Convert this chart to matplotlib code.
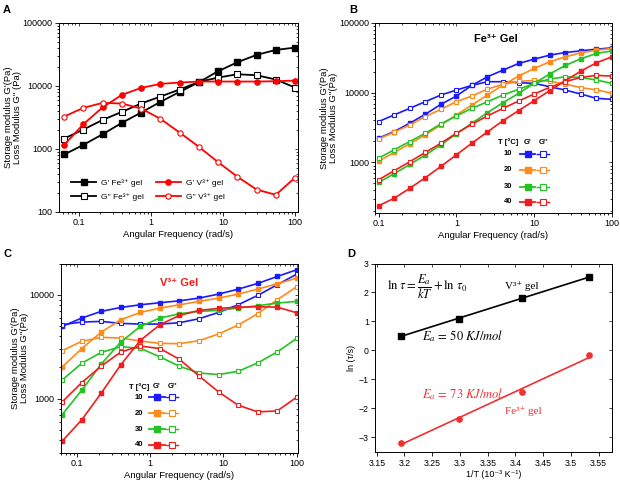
import matplotlib
matplotlib.use('Agg')
import matplotlib.pyplot as plt
import numpy as np

plt.rcParams['font.family'] = ['Liberation Sans', 'DejaVu Sans']
plt.rcParams['font.size'] = 6

# ---- panel A data ----
freq_a = [0.0628, 0.116, 0.215, 0.397, 0.734, 1.36, 2.51, 4.64, 8.58, 15.9, 29.3, 54.2, 100]
gp_fe = [813, 1157, 1710, 2588, 3774, 5575, 8030, 11430, 17090, 23750, 31050, 37260, 40570]
gpp_fe = [1459, 2027, 2884, 3868, 5245, 6776, 8750, 11570, 13550, 15310, 14770, 12620, 9420]
gp_v = [1157, 2465, 4580, 7200, 9300, 10770, 11300, 11720, 11720, 11720, 11720, 11860, 12160]
gpp_v = [3260, 4480, 5370, 5245, 4370, 2995, 1815, 1076, 614, 360, 226, 186, 347]

# ---- panel B data (Fe3+ gel) ----
freq_b = [0.1, 0.158, 0.251, 0.398, 0.631, 1.0, 1.58, 2.51, 3.98, 6.31, 10, 15.8, 25.1, 39.8, 63.1, 100]
temps = ['10', '20', '30', '40']
fe_gp = {
    '10': [2228, 2773, 3650, 4900, 6810, 8960, 12730, 16930, 21090, 26240, 30270, 34520, 37670, 39810, 42060, 43950],
    '20': [1045, 1390, 1850, 2485, 3451, 4800, 6670, 9260, 12880, 17300, 22280, 27730, 32660, 37260, 40740, 42950],
    '30': [518, 689, 936, 1273, 1786, 2570, 3650, 5180, 7200, 9780, 13600, 18490, 24550, 30620, 36480, 39810],
    '40': [240, 306, 426, 604, 877, 1288, 1888, 2742, 3981, 5530, 7690, 10690, 14830, 20400, 26850, 32660],
}
fe_gpp = {
    '10': [3855, 4800, 5970, 7430, 9260, 10900, 12730, 14370, 14370, 13900, 13600, 12200, 10900, 9570, 8300, 8030],
    '20': [2180, 2710, 3450, 4540, 5780, 7430, 8960, 11280, 13200, 14500, 15000, 14600, 13300, 11800, 11000, 9800],
    '30': [1153, 1517, 1995, 2625, 3565, 4645, 5970, 7430, 9260, 11170, 13600, 15670, 16930, 16560, 15170, 13600],
    '40': [565, 760, 1023, 1390, 1888, 2625, 3530, 4645, 5970, 7600, 9570, 11920, 14370, 16560, 17700, 17300],
}

# ---- panel C data (V3+ gel) ----
v_gp = {
    '10': [4960, 5970, 6920, 7550, 8010, 8380, 8750, 9290, 10150, 11330, 12850, 15000, 17400],
    '20': [2015, 3030, 4375, 5750, 6760, 7450, 8010, 8630, 9290, 10150, 11330, 12760, 14460],
    '30': [702, 1202, 2155, 3510, 4960, 5970, 6560, 6920, 7070, 7450, 7840, 8320, 8630],
    '40': [389, 624, 1132, 2123, 3640, 5150, 6330, 7070, 7390, 7600, 7670, 7600, 6710],
}
v_gpp = {
    '10': [5150, 5460, 5540, 5300, 5220, 5220, 5380, 5880, 6760, 8010, 9850, 12480, 15800],
    '20': [2895, 3560, 3890, 3830, 3585, 3405, 3380, 3610, 4190, 5110, 6560, 8950, 11940],
    '30': [1510, 2188, 2790, 3162, 3048, 2517, 2047, 1766, 1702, 1832, 2203, 2810, 3800],
    '40': [929, 1426, 2060, 2810, 3210, 3030, 2390, 1652, 1159, 863, 745, 760, 1030],
}
colors = {'10': '#1a1aff', '20': '#ff8a1a', '30': '#22c322', '40': '#f21c1c'}

# ---- panel D data ----
inv_t = [3.193, 3.299, 3.411, 3.532]
ln_tau_v = [0.50, 1.085, 1.807, 2.53]
ln_tau_fe = [-3.18, -2.367, -1.438, -0.165]


def box_ticks(ax):
    # inward ticks on the top and right edges
    top = ax.secondary_xaxis('top')
    top.tick_params(which='both', direction='in', labeltop=False, width=0.5)
    top.tick_params(which='major', length=2.5)
    top.tick_params(which='minor', length=1.3)
    right = ax.secondary_yaxis('right')
    right.tick_params(which='both', direction='in', labelright=False, width=0.5)
    right.tick_params(which='major', length=2.5)
    right.tick_params(which='minor', length=1.3)
    for a in (top, right):
        for s in a.spines.values():
            s.set_linewidth(0.7)


def style_log(ax, xlim, ylim, yticks):
    ax.set_xscale('log')
    ax.set_yscale('log')
    ax.set_xlim(*xlim)
    ax.set_ylim(*ylim)
    ax.set_xticks([0.1, 1, 10, 100])
    ax.set_xticklabels(['0.1', '1', '10', '100'])
    ax.set_yticks(yticks)
    ax.set_yticklabels([str(t) for t in yticks])
    ax.tick_params(which='both', direction='out', labelsize=6.5, width=0.6, pad=1.5)
    ax.tick_params(which='major', length=3)
    ax.tick_params(which='minor', length=1.5)
    for s in ax.spines.values():
        s.set_linewidth(0.7)
    ax.set_xlabel('Angular Frequency (rad/s)', fontsize=6.8, labelpad=2)
    box_ticks(ax)


def temp_key(ax, x_lab, x_gp, x_gpp, y_head, rows):
    tr = ax.transAxes
    ax.text(x_lab, y_head, 'T [°C]', transform=tr, fontsize=5.5, fontweight='bold',
            ha='center', va='center')
    ax.text(x_gp, y_head, "G'", transform=tr, fontsize=5.5, fontweight='bold', ha='center', va='center')
    ax.text(x_gpp, y_head, "G''", transform=tr, fontsize=5.5, fontweight='bold', ha='center', va='center')
    for t, y in zip(temps, rows):
        c = colors[t]
        ax.text(x_lab, y, t, transform=tr, fontsize=5.5, fontweight='bold', ha='center', va='center')
        ax.plot([x_gp - 0.032, x_gp + 0.032], [y, y], color=c, lw=1.3, transform=tr)
        ax.plot([x_gp], [y], 's', color=c, ms=3.8, transform=tr)
        ax.plot([x_gpp - 0.03, x_gpp + 0.03], [y, y], color=c, lw=1.0, ls=(0, (2.5, 1.2)), transform=tr)
        ax.plot([x_gpp], [y], 's', color=c, mfc='white', ms=3.8, mew=0.8, transform=tr)


fig = plt.figure(figsize=(6.2, 4.88), dpi=100)
ylab = "Storage modulus G'(Pa)\nLoss Modulus G''(Pa)"

# A
axA = fig.add_axes([0.095, 0.566, 0.386, 0.387])
axA.plot(freq_a, gp_fe, 's-', color='black', ms=3.8, lw=1.3, label="G' Fe³⁺ gel")
axA.plot(freq_a, gpp_fe, 's-', color='black', mfc='white', ms=3.8, mew=0.8, lw=1.3, label="G'' Fe³⁺ gel")
axA.plot(freq_a, gp_v, 'o-', color='red', ms=3.8, lw=1.3, label="G' V³⁺ gel")
axA.plot(freq_a, gpp_v, 'o-', color='red', mfc='white', ms=3.8, mew=0.8, lw=1.3, label="G'' V³⁺ gel")
style_log(axA, (0.053, 111), (100, 100000), [100, 1000, 10000, 100000])
axA.set_ylabel("Storage modulus G'(Pa)\nLoss Modulus G'' (Pa)", fontsize=6.8, labelpad=0.5, linespacing=1.0)
axA.legend(loc='lower left', ncol=2, frameon=False, fontsize=6, handlelength=3,
           columnspacing=1.4, handletextpad=0.6, bbox_to_anchor=(0.02, 0.02), labelspacing=0.7)

# B
axB = fig.add_axes([0.605, 0.564, 0.382, 0.389])
for t in temps:
    c = colors[t]
    axB.plot(freq_b, fe_gp[t], 's-', color=c, ms=3.4, lw=1.2)
    axB.plot(freq_b, fe_gpp[t], 's-', color=c, mfc='white', ms=3.4, mew=0.8, lw=1.2)
style_log(axB, (0.09, 100), (190, 100000), [1000, 10000, 100000])
axB.set_ylabel(ylab, fontsize=6.8, labelpad=0.5, linespacing=1.0)
axB.text(0.51, 0.9, 'Fe³⁺ Gel', transform=axB.transAxes, fontsize=8, fontweight='bold', ha='center')
temp_key(axB, 0.56, 0.645, 0.71, 0.37, [0.31, 0.226, 0.137, 0.058])

# C
axC = fig.add_axes([0.098, 0.072, 0.383, 0.388])
for t in temps:
    c = colors[t]
    axC.plot(freq_a, v_gp[t], 's-', color=c, ms=3.4, lw=1.2)
    axC.plot(freq_a, v_gpp[t], 's-', color=c, mfc='white', ms=3.4, mew=0.8, lw=1.2)
style_log(axC, (0.06, 105), (300, 20000), [1000, 10000])
axC.set_ylabel(ylab, fontsize=6.8, labelpad=0.5, linespacing=1.0)
axC.text(0.5, 0.88, 'V³⁺ Gel', transform=axC.transAxes, fontsize=8, fontweight='bold',
         ha='center', color='#f21c1c')
temp_key(axC, 0.33, 0.405, 0.47, 0.35, [0.295, 0.21, 0.126, 0.042])

# D
axD = fig.add_axes([0.605, 0.073, 0.382, 0.387])
x_fit = np.array(inv_t)
for y, c, m in [(ln_tau_v, 'black', 's'), (ln_tau_fe, '#f03030', 'o')]:
    k, b = np.polyfit(inv_t, y, 1)
    axD.plot(x_fit, k * x_fit + b, color=c, lw=1.2)
    axD.plot(inv_t, y, m, color=c, ms=3.8, ls='none')
axD.set_xlim(3.147, 3.574)
axD.set_ylim(-3.52, 3.0)
axD.set_xticks([3.15, 3.2, 3.25, 3.3, 3.35, 3.4, 3.45, 3.5, 3.55])
axD.set_xticklabels(['3.15', '3.2', '3.25', '3.3', '3.35', '3.4', '3.45', '3.5', '3.55'])
axD.set_yticks([-3, -2, -1, 0, 1, 2, 3])
axD.tick_params(direction='out', labelsize=6.3, width=0.6, length=3, pad=1.5)
for s in axD.spines.values():
    s.set_linewidth(0.7)
box_ticks(axD)
axD.set_xlabel('1/T (10⁻³ K⁻¹)', fontsize=6.5, labelpad=2)
axD.set_ylabel('ln (τ/s)', fontsize=6.5, labelpad=2)
axD.text(0.05, 0.88, r'$\ln\,\tau = \dfrac{E_a}{kT} + \ln\,\tau_0$', transform=axD.transAxes,
         fontsize=9, math_fontfamily='stix', va='center')
axD.text(0.55, 0.88, 'V³⁺ gel', transform=axD.transAxes, fontsize=8,
         family=['Liberation Serif', 'DejaVu Serif'], va='center')
axD.text(0.2, 0.615, r'$E_a\, =\, 50\ KJ/mol$', transform=axD.transAxes, fontsize=9,
         math_fontfamily='stix', va='center')
axD.text(0.2, 0.31, r'$E_a\, =\, 73\ KJ/mol$', transform=axD.transAxes, fontsize=9,
         math_fontfamily='stix', va='center', color='#f03030')
axD.text(0.55, 0.22, 'Fe³⁺ gel', transform=axD.transAxes, fontsize=8, color='#f03030',
         family=['Liberation Serif', 'DejaVu Serif'], va='center')

for lab, x, y in [('A', 0.005, 0.99), ('B', 0.563, 0.99), ('C', 0.005, 0.49), ('D', 0.56, 0.49)]:
    fig.text(x, y, lab, fontsize=8, fontweight='bold', va='top')

fig.savefig('out.png', dpi=100)
